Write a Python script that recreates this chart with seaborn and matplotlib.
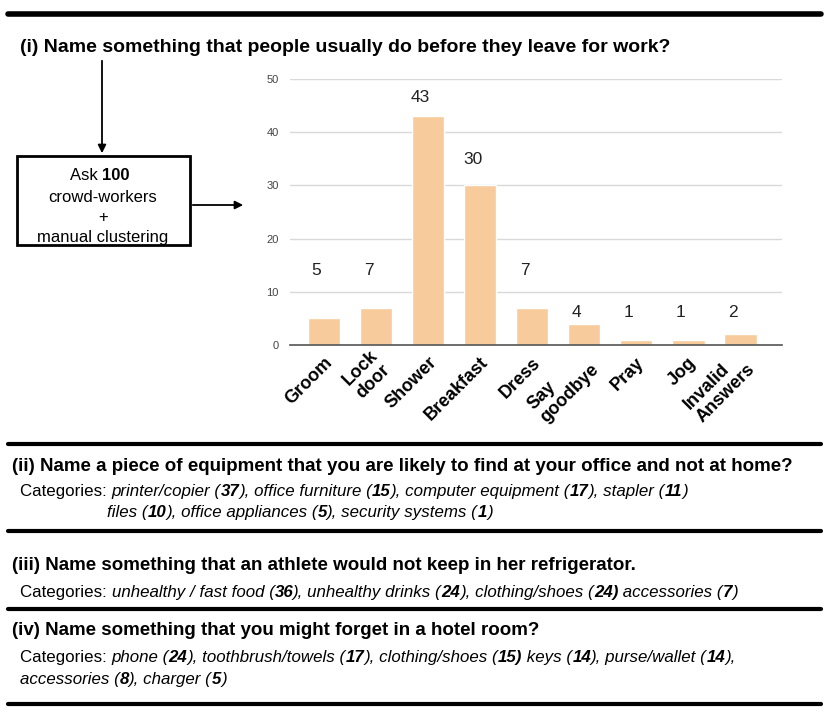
import numpy as np
import pandas as pd
import seaborn as sns
import matplotlib.pyplot as plt
import matplotlib.transforms as mtransforms
from matplotlib import font_manager
from matplotlib.patches import Rectangle, FancyArrowPatch
from matplotlib.lines import Line2D

# chart data
answers = ["Groom", "Lock\ndoor", "Shower", "Breakfast", "Dress",
           "Say\ngoodbye", "Pray", "Jog", "Invalid\nAnswers"]
counts = [5, 7, 43, 30, 7, 4, 1, 1, 2]

question_1 = "(i) Name something that people usually do before they leave for work?"
question_2 = "(ii) Name a piece of equipment that you are likely to find at your office and not at home?"
question_3 = "(iii) Name something that an athlete would not keep in her refrigerator."
question_4 = "(iv) Name something that you might forget in a hotel room?"

# text runs: (text, style) with style r=regular, i=italic, b=bold italic number
cats_2a = [("Categories: ", "r"), ("printer/copier (", "i"), ("37", "b"), ("), office furniture (", "i"),
           ("15", "b"), ("), computer equipment (", "i"), ("17", "b"), ("), stapler (", "i"), ("11", "b"), (")", "i")]
cats_2b = [("files (", "i"), ("10", "b"), ("), office appliances (", "i"), ("5", "b"),
           ("), security systems (", "i"), ("1", "b"), (")", "i")]
cats_3 = [("Categories: ", "r"), ("unhealthy / fast food (", "i"), ("36", "b"), ("), unhealthy drinks (", "i"),
          ("24", "b"), ("), clothing/shoes (", "i"), ("24)", "b"), (" accessories (", "i"), ("7", "b"), (")", "i")]
cats_4a = [("Categories: ", "r"), ("phone (", "i"), ("24", "b"), ("), toothbrush/towels (", "i"), ("17", "b"),
           ("), clothing/shoes (", "i"), ("15)", "b"), (" keys (", "i"), ("14", "b"), ("), purse/wallet (", "i"),
           ("14", "b"), ("),", "i")]
cats_4b = [("accessories (", "i"), ("8", "b"), ("), charger (", "i"), ("5", "b"), (")", "i")]

# label heights (layout, data units) as drawn in the original chart
label_y = [14, 14, 46.6, 34.8, 14, 6.2, 6.2, 6.2, 6.2]

sns.set_style("white")
names = {f.name for f in font_manager.fontManager.ttflist}
narrow = "Liberation Sans Narrow" if "Liberation Sans Narrow" in names else "Liberation Sans"
plt.rcParams["font.family"] = ["Liberation Sans", "DejaVu Sans"]
plt.rcParams["text.color"] = "black"

W, H = 830, 723
fig = plt.figure(figsize=(W / 100, H / 100), dpi=100)


def fx(px):
    return px / W


def fy(py):
    return 1 - py / H


def hline(py, lw=3.0, x0=8, x1=821):
    fig.add_artist(Line2D([fx(x0), fx(x1)], [fy(py), fy(py)], color="black", lw=lw,
                          transform=fig.transFigure))


def runs(px, py, items, size=12.2):
    r = fig.canvas.get_renderer()
    x = fx(px)
    for s, style in items:
        kw = dict(family=narrow, fontsize=size, va="baseline", ha="left")
        if style == "i":
            kw["style"] = "italic"
        elif style == "b":
            kw["style"] = "italic"
            kw["weight"] = "bold"
        t = fig.text(x, fy(py), s, **kw)
        x += t.get_window_extent(r).width / W


# bar chart
df = pd.DataFrame({"answer": answers, "count": counts})
ax = fig.add_axes([fx(290), fy(345), fx(782) - fx(290), fy(79) - fy(345)])
sns.barplot(data=df, x="answer", y="count", color="#f8cb9c", saturation=1, width=0.62, ax=ax)
ax.set_ylim(0, 50)
ax.set_xlim(-0.66, 8.8)
ax.set_yticks(range(0, 51, 10))
ax.grid(axis="y", color="#d9d9d9", lw=1)
ax.set_axisbelow(True)
for s in ["top", "right", "left"]:
    ax.spines[s].set_visible(False)
ax.spines["bottom"].set_color("#555555")
ax.spines["bottom"].set_linewidth(1.2)
ax.set_xlabel("")
ax.set_ylabel("")
ax.tick_params(axis="y", length=0, pad=8, labelsize=8, labelcolor="#444444")
ax.tick_params(axis="x", length=0, pad=0, labelcolor="black")
for lab in ax.get_yticklabels():
    lab.set_family(narrow)
ax.set_xticks(range(len(answers)))
ax.set_xticklabels(answers, rotation=45, ha="right", va="center", rotation_mode="anchor",
                   fontsize=13, fontweight="bold", multialignment="left", linespacing=1.1)
shift = mtransforms.ScaledTranslation(0.055, -0.15, fig.dpi_scale_trans)
for lab in ax.get_xticklabels():
    lab.set_transform(lab.get_transform() + shift)
for i, (v, ly) in enumerate(zip(counts, label_y)):
    ax.text(i - 0.15, ly, str(v), ha="center", va="center", fontsize=12.5, color="#222222")

# frame lines and questions
hline(14, lw=4)
fig.text(fx(20), fy(52), question_1, family=narrow, fontsize=14, weight="bold", va="baseline")

# flow box
fig.add_artist(Rectangle((fx(17), fy(245)), fx(190) - fx(17), fy(156) - fy(245), fill=False,
                         lw=2, ec="black", transform=fig.transFigure))
fig.add_artist(FancyArrowPatch((fx(102), fy(58)), (fx(102), fy(156)), transform=fig.transFigure,
                               arrowstyle="-|>", mutation_scale=12, color="black", lw=1.3))
fig.add_artist(FancyArrowPatch((fx(190), fy(205)), (fx(246), fy(205)), transform=fig.transFigure,
                               arrowstyle="-|>", mutation_scale=12, color="black", lw=1.3))
fig.text(fx(102), fy(180), "Ask ", ha="right", va="baseline", fontsize=12)
fig.text(fx(102), fy(180), "100", ha="left", va="baseline", fontsize=12, weight="bold")
fig.text(fx(103), fy(202), "crowd-workers", ha="center", va="baseline", fontsize=12)
fig.text(fx(103), fy(222), "+", ha="center", va="baseline", fontsize=12)
fig.text(fx(103), fy(242), "manual clustering", ha="center", va="baseline", fontsize=12)

hline(444)
fig.text(fx(12), fy(471), question_2, family=narrow, fontsize=13.5, weight="bold", va="baseline")
runs(20, 496, cats_2a)
runs(107, 517, cats_2b)
hline(531)
fig.text(fx(12), fy(570), question_3, family=narrow, fontsize=13.5, weight="bold", va="baseline")
runs(20, 597, cats_3)
hline(609)
fig.text(fx(12), fy(635), question_4, family=narrow, fontsize=13.5, weight="bold", va="baseline")
runs(20, 662, cats_4a)
runs(20, 684, cats_4b)
hline(704)

fig.savefig("out.png", dpi=100)
